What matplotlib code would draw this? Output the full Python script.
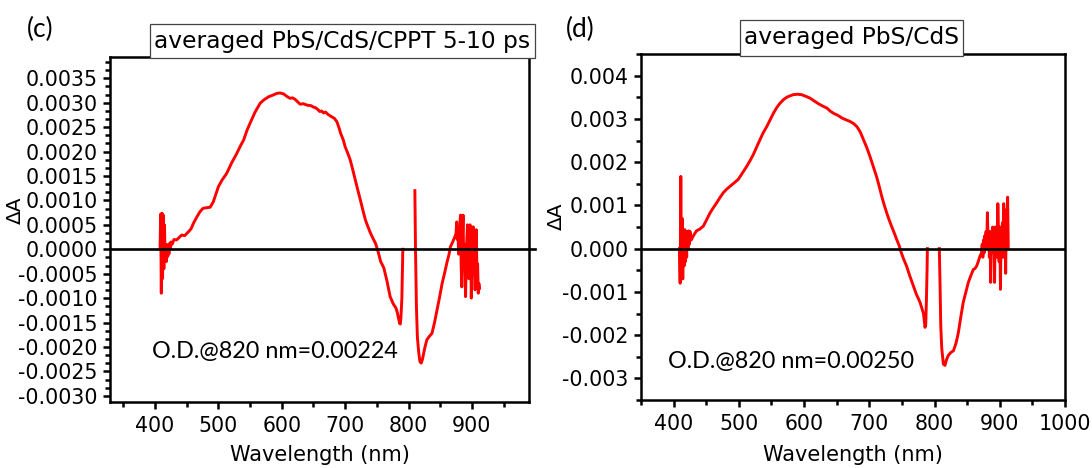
import numpy as np
import matplotlib.pyplot as plt
from matplotlib.patches import Rectangle
from matplotlib.ticker import MultipleLocator

# ---- data ----
# panel (c): averaged PbS/CdS/CPPT 5-10 ps
wl_c = [408, 409, 410, 411, 412, 413, 414, 415, 416, 417, 418, 419, 420, 421, 422, 423, 424, 425, 427, 430,
        434, 442, 447, 453, 457, 460.6, 466, 471, 476, 481, 487, 492, 500, 506, 513, 521, 529, 535, 540, 545,
        550, 558, 566, 572, 579, 585, 592, 597, 603, 608, 613, 617, 621, 625, 629, 634, 640, 646, 650, 653,
        657, 660, 663, 666, 669, 673, 679, 683, 687, 690, 693, 697, 700, 704, 708, 712, 716, 720, 724, 728,
        732, 736, 740, 744, 748, 752, 756, 761, 766, 771, 776, 780, 782, 784, 786, 787, 788, 789.5, 790.5, 791,
        800,
        810, 811, 812.5, 814, 816, 818, 820, 822, 824, 826, 829, 833, 837, 841, 845, 849, 853, 857, 861, 864,
        866, 868, 871, 873, 875,
        876, 877, 878, 879, 880, 881, 882, 883, 884, 885, 886, 887, 888, 889, 890, 891, 892, 893, 894, 895,
        896, 897, 898, 899, 900, 901, 902, 903, 904, 905, 906, 907, 908, 909, 910, 911, 912]
dA_c = [0.0, 0.00072, -0.0009, 0.00074, -0.0006, 0.0007, -0.0004, 0.0005, -0.0002, 0.0001, -0.00025, 0.00005,
        -0.00015, 0.0001, -0.0001, 0.00012, 0.0, 0.00015, 0.0001, 0.0002,
        0.00019, 0.00029, 0.00028, 0.00036, 0.00042, 0.00053, 0.00066, 0.00077, 0.00084, 0.00085, 0.00086,
        0.00097, 0.00128, 0.00142, 0.00155, 0.00177, 0.00196, 0.00212, 0.00224, 0.00243,
        0.00258, 0.00281, 0.00299, 0.00306, 0.00312, 0.00315, 0.00319, 0.0032, 0.00318, 0.00313, 0.00309,
        0.0031, 0.00307, 0.00302, 0.00297, 0.00298, 0.00295, 0.00294, 0.00291, 0.0029,
        0.00286, 0.00282, 0.00283, 0.00279, 0.00281, 0.00276, 0.00271, 0.00268, 0.00261, 0.0025, 0.00237,
        0.00224, 0.0021, 0.00197, 0.00183, 0.00163, 0.00142, 0.00121, 0.00101, 0.0008,
        0.0006, 0.00046, 0.00033, 0.00022, 0.00012, -0.00005, -0.00025, -0.00038, -0.00065, -0.00097,
        -0.00112, -0.0012, -0.00128, -0.0014, -0.00152, -0.00153, -0.0014, -0.001, -0.0004, 0.0,
        np.nan,
        0.0012, 0.0, -0.0012, -0.0018, -0.0021, -0.0023, -0.00233, -0.00225, -0.00213, -0.002, -0.00185,
        -0.00178, -0.00172, -0.0015, -0.00124, -0.00098, -0.0007, -0.00048, -0.00025, -0.0001,
        0.00005, 0.0001, 0.00019, 0.00025, 0.00033,
        0.00056, 0.0002, 0.0004, -0.0001, 0.0003, 0.0005, 0.0007, -0.0003, -0.00077, 0.0002, 0.0007, -0.0002,
        0.0001, -0.0004, -0.00097, -0.0002, 0.0002, 0.0005, -0.0003, -0.0006,
        0.0001, 0.0005, 0.0003, -0.001, -0.0004, 0.0001, 0.00046, -0.0005, -0.0002, -0.00083, -0.0005, 0.0004,
        -0.0006, -0.0003, -0.0009, -0.0007, -0.0008]

# panel (d): averaged PbS/CdS
wl_d = [409, 410, 411, 412, 413, 414, 415, 416, 417, 418, 419, 420, 421, 422, 423, 424, 425, 427, 430, 435,
        440, 445.5, 450, 456, 461, 466, 471, 476, 481, 486.5, 493, 499, 505, 512, 517, 522, 527, 532.5, 537,
        542.7, 548, 553, 558, 563, 568, 573.5, 578, 583.6, 590, 596, 603, 609, 615, 622, 628, 635, 640, 645,
        652, 658, 664, 670.5, 676, 681, 686, 691, 696, 701, 706, 711, 715, 719, 723, 726.6, 730, 734, 738,
        742, 746, 748, 752, 757, 762, 767.5, 772, 777.7, 781, 783, 785.4, 786.5, 787.5, 788.5, 789,
        798,
        807.3, 808.5, 809.5, 811, 813.5, 816, 818, 821, 825, 829, 833, 836.5, 840, 844, 848, 851.8, 855,
        859.5, 862, 864.6, 867, 869.7, 872,
        873, 874, 875, 876, 877, 878, 879, 880, 881, 882, 883, 884, 885, 886, 887, 888, 889, 890, 891, 892,
        893, 894, 895, 896, 897, 898, 899, 900, 901, 902, 903, 904, 905, 906, 907, 908, 909, 910, 911, 912, 913]
dA_d = [0.0, -0.0008, 0.00167, -0.0006, 0.0007, -0.0007, 0.0004, -0.0004, 0.00044, -0.0003, 0.0003, -0.0002,
        0.0004, 0.0, 0.00041, 0.0001, 0.0004, 0.0002, 0.00029, 0.00041,
        0.00045, 0.00052, 0.00065, 0.00083, 0.00095, 0.00106, 0.00118, 0.00129, 0.00137, 0.00144, 0.00152,
        0.0016, 0.00174, 0.0019, 0.00203, 0.00217, 0.00234, 0.00252, 0.00267,
        0.00282, 0.00298, 0.00313, 0.00326, 0.00336, 0.00344, 0.0035, 0.00353, 0.00356, 0.00357, 0.00356,
        0.00352, 0.00348, 0.00342, 0.00335, 0.0033, 0.00325, 0.00318, 0.00313,
        0.00308, 0.00302, 0.00298, 0.00294, 0.00289, 0.00282, 0.0027, 0.00252, 0.00234, 0.00213, 0.0019,
        0.00167, 0.00145, 0.00121, 0.001, 0.00083, 0.00068, 0.00052, 0.00037,
        0.00021, 0.00006, -0.00005, -0.00022, -0.0004, -0.00063, -0.00086, -0.00105, -0.00124, -0.0014,
        -0.0015, -0.00182, -0.00175, -0.0012, -0.0005, 0.0,
        np.nan,
        0.0, -0.0009, -0.00178, -0.0023, -0.00267, -0.0027, -0.00258, -0.00247, -0.0024, -0.00236, -0.00218,
        -0.00194, -0.0016, -0.00124, -0.001, -0.00078, -0.00065,
        -0.00048, -0.00046, -0.0004, -0.0003, -0.00017, -0.0001,
        0.0001, -0.0002, 0.0002, -0.0001, 0.0003, 0.0001, 0.0004, 0.0, 0.00083, 0.0002, 0.0004, -0.0002, 0.0003,
        -0.00078, 0.0004, 0.0002, 0.0005, -0.0001, 0.0003, -0.00078,
        0.0005, 0.0, 0.0004, -0.0002, 0.00104, 0.0003, -0.0003, 0.0005, -0.00094, 0.0004, 0.0001, 0.0006,
        -0.0002, 0.00104, 0.0003, 0.0007, -0.00057, 0.0009, 0.0001, 0.00119, 0.0]

titles = ['averaged PbS/CdS/CPPT 5-10 ps', 'averaged PbS/CdS']
panel_tags = ['(c)', '(d)']
od_notes = ['O.D.@820 nm=0.00224', 'O.D.@820 nm=0.00250']

plt.rcParams['font.family'] = ['DejaVu Sans']

fig = plt.figure(figsize=(10.92, 4.68), dpi=100)
ax1 = fig.add_axes([0.1007, 0.1417, 0.3837, 0.7359])
ax2 = fig.add_axes([0.587, 0.1453, 0.3883, 0.7393])


def style(ax, ylo, yhi, xlo, xhi, ymaj, ymin, yfmt):
    ax.set_xlim(xlo, xhi)
    ax.set_ylim(ylo, yhi)
    for s in ax.spines.values():
        s.set_linewidth(1.8)
    ax.xaxis.set_major_locator(MultipleLocator(100))
    ax.xaxis.set_minor_locator(MultipleLocator(50))
    ax.yaxis.set_major_locator(MultipleLocator(ymaj))
    ax.yaxis.set_minor_locator(MultipleLocator(ymin))
    ax.yaxis.set_major_formatter(plt.FuncFormatter(lambda v, p: yfmt % (0.0 if abs(v) < 1e-12 else v)))
    ax.tick_params(which='major', length=5, width=1.8, labelsize=14.8, pad=4)
    ax.tick_params(which='minor', length=3.5, width=1.8)
    ax.tick_params(axis='x', which='major', pad=5)
    ax.set_xlabel('Wavelength (nm)', fontsize=15)
    ax.set_ylabel('ΔA', fontsize=14.5)
    ax.yaxis.label.set_verticalalignment('center')
    ax.xaxis.label.set_verticalalignment('center')


style(ax1, -0.00312, 0.00393, 329, 990, 0.0005, 0.0005 / 3, '%.4f')
style(ax2, -0.0035, 0.0045, 350, 1000, 0.001, 0.0005, '%.3f')

ax1.set_xticks([400, 500, 600, 700, 800, 900])
ax2.set_xticks([400, 500, 600, 700, 800, 900, 1000])
ax1.set_yticks(np.arange(-0.003, 0.00351, 0.0005))
ax2.set_yticks(np.arange(-0.003, 0.00401, 0.001))

ax1.plot(wl_c, dA_c, color='#ff0000', lw=2.1, zorder=2)
ax2.plot(wl_d, dA_d, color='#ff0000', lw=2.1, zorder=2)
ax1.axhline(0, xmin=0, xmax=1.015, color='black', lw=1.9, zorder=3, clip_on=False)
ax2.axhline(0, color='black', lw=1.9, zorder=3)

ax1.yaxis.set_label_coords(-0.225, 0.557)
ax2.yaxis.set_label_coords(-0.2, 0.53)
ax1.xaxis.set_label_coords(0.5, -0.155)
ax2.xaxis.set_label_coords(0.5, -0.16)

# boxed titles
boxes = [(ax1, 0.0964, 0.9965, 1.0138, 1.0955), (ax2, 0.2335, 0.995, 0.759, 1.098)]
for (ax, x0, y0, x1, y1), t in zip(boxes, titles):
    ax.add_patch(Rectangle((x0, y0), x1 - x0, y1 - y0, transform=ax.transAxes, facecolor='white',
                           edgecolor='#444444', lw=0.9, clip_on=False, zorder=5))
    ax.text((x0 + x1) / 2, (y0 + y1) / 2, t, transform=ax.transAxes, ha='center', va='center',
            fontsize=16.8, zorder=6)

ax1.text(0.1, 0.147, od_notes[0], transform=ax1.transAxes, ha='left', va='center',
         fontsize=16.8, family='Lato')
ax2.text(0.063, 0.111, od_notes[1], transform=ax2.transAxes, ha='left', va='center',
         fontsize=16.8, family='Lato')

fig.text(0.0366, 0.938, panel_tags[0], ha='center', va='center', fontsize=19, family='Lato')
fig.text(0.531, 0.936, panel_tags[1], ha='center', va='center', fontsize=19, family='Lato')

plt.savefig('out.png', dpi=100)
